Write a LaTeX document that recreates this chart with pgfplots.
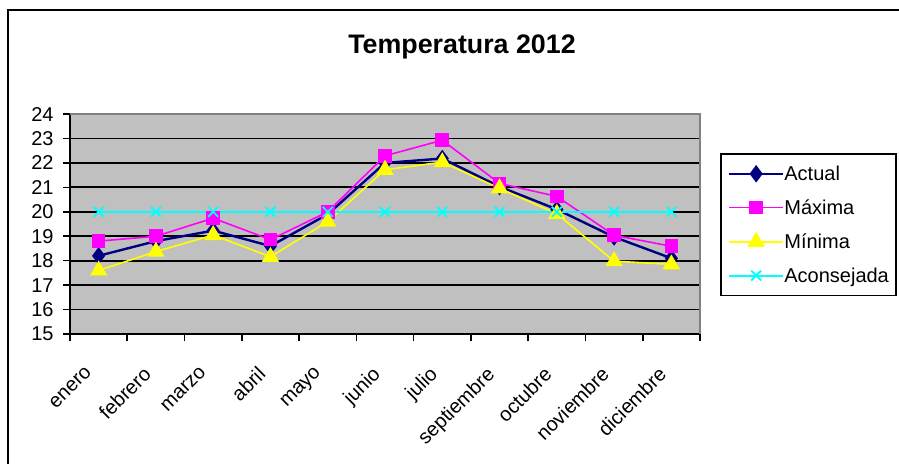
\documentclass[border=0pt]{standalone}
\usepackage{fontspec}
\setmainfont{Liberation Sans}
\usepackage{pgfplots}
\pgfplotsset{compat=1.18}
\usepackage{pgfplotstable}

\definecolor{actualc}{RGB}{0,0,128}
\definecolor{maxc}{RGB}{255,0,255}
\definecolor{minc}{RGB}{255,255,0}
\definecolor{acoc}{RGB}{0,255,255}
\definecolor{plotbg}{RGB}{192,192,192}
\definecolor{plotborder}{RGB}{128,128,128}

\pgfplotstableread{
x actual maxima minima aconsejada
0 18.2 18.8 17.6 20
1 18.8 19.0 18.37 20
2 19.23 19.74 19.05 20
3 18.6 18.86 18.16 20
4 19.9 20.0 19.6 20
5 22.0 22.29 21.72 20
6 22.18 22.93 22.03 20
7 21.03 21.16 20.96 20
8 20.1 20.63 19.92 20
9 18.97 19.04 17.98 20
10 18.1 18.59 17.85 20
}\datatable

\begin{document}
\begin{tikzpicture}
\path[use as bounding box] (0,0) rectangle (449.5pt,-231.5pt);
\draw[line width=1pt] (4pt,-240pt) -- (4pt,-5pt) -- (460pt,-5pt);
\node[anchor=base, font=\bfseries\fontsize{13.4}{16}\selectfont] at (231pt,-26.5pt) {Temperatura 2012};
\begin{axis}[
  at={(35pt,-167pt)}, anchor=south west,
  scale only axis, width=315pt, height=110pt,
  xmin=-0.5, xmax=10.5, ymin=15, ymax=24,
  ytick={15,...,24},
  xtick={0,...,10},
  xticklabels={enero,febrero,marzo,abril,mayo,junio,julio,septiembre,octubre,noviembre,diciembre},
  minor xtick={-0.5,0.5,...,10.5},
  axis x line*=bottom, axis y line*=left,
  axis line style={-, black, line width=0.9pt},
  axis background/.style={fill=plotbg},
  ymajorgrids, grid style={black, line width=0.9pt},
  tick align=outside,
  major tick length=3.5pt, minor tick length=3.5pt,
  tick style={black, line width=0.8pt},
  major x tick style={draw=none},
  /pgf/number format/assume math mode=true,
  ticklabel style={font=\fontsize{10}{12}\selectfont},
  yticklabel style={anchor=east, inner sep=0pt, xshift=-4.5pt},
  xticklabel style={xshift=-7pt, yshift=-12pt, rotate=45, anchor=north east, inner sep=0pt},
  legend style={at={(1.032,0.823)}, anchor=north west, draw=black, line width=0.8pt, fill=white,
    font=\fontsize{10}{12}\selectfont, inner xsep=3.5pt, inner ysep=6pt, row sep=8.9pt,
    nodes={inner sep=0pt, text height=7.5pt, text depth=0.5pt},
    /tikz/every even column/.append style={column sep=5pt}},
  legend cell align=left,
  legend image code/.code={\draw[mark repeat=2,mark phase=2] plot coordinates {(0pt,0pt)(13.5pt,0pt)(27pt,0pt)};},
  clip=false,
]
\addplot[actualc, line width=1.2pt, mark=diamond*, mark size=3.4pt, mark options={fill=actualc, solid}] table[x=x,y=actual]{\datatable};
\addlegendentry{Actual}
\addplot[maxc, line width=0.8pt, mark=square*, mark size=3pt, mark options={fill=maxc, solid}] table[x=x,y=maxima]{\datatable};
\addlegendentry{Máxima}
\addplot[minc, line width=0.8pt, mark=triangle*, mark size=4.2pt, mark options={fill=minc, solid}] table[x=x,y=minima]{\datatable};
\addlegendentry{Mínima}
\addplot[acoc, line width=1pt, mark=x, mark size=3.5pt, mark options={solid, line width=0.9pt}] table[x=x,y=aconsejada]{\datatable};
\addlegendentry{Aconsejada}
\draw[plotborder, line width=0.9pt] (rel axis cs:0,1) -- (rel axis cs:1,1) -- (rel axis cs:1,0);
\end{axis}
\end{tikzpicture}
\end{document}
